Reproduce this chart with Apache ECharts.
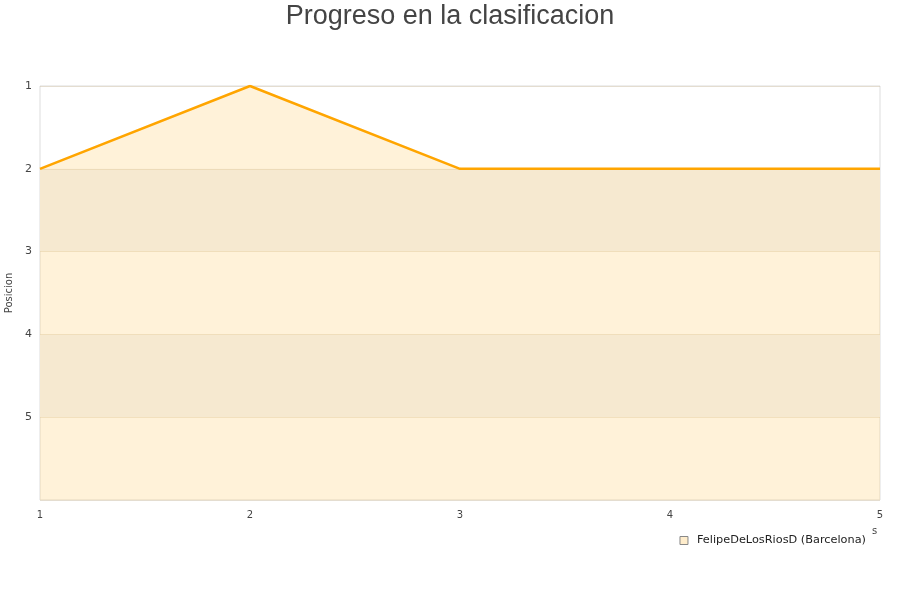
<!DOCTYPE html>
<html>
<head>
<meta charset="utf-8">
<script src="https://cdn.jsdelivr.net/npm/echarts@6/dist/echarts.min.js"></script>
<style>html,body{margin:0;padding:0;background:#fff}#c{width:900px;height:600px}</style>
</head>
<body>
<div id="c"></div>
<script>
const jornadas = [1, 2, 3, 4, 5];
const posiciones = [2, 1, 2, 2, 2];
const serieNombre = 'FelipeDeLosRiosD (Barcelona)';
const yTicks = [1, 2, 3, 4, 5];

const chart = echarts.init(document.getElementById('c'));
chart.setOption({
  animation: false,
  title: {
    text: 'Progreso en la clasificacion',
    left: 'center', top: -2,
    textStyle: { fontFamily: 'Liberation Sans', fontSize: 27, fontWeight: 'normal', color: '#444' }
  },
  grid: { left: 40, right: 20, top: 86, bottom: 100, show: true, borderColor: '#ddd', borderWidth: 1, outerBoundsMode: 'none', containLabel: false },
  legend: {
    right: 29, top: 530,
    itemWidth: 8, itemHeight: 8,
    icon: 'rect',
    textStyle: { fontFamily: 'DejaVu Sans', fontSize: 11.3, color: '#222', padding: [0, 0, 0, 4] },
    data: [{ name: serieNombre, itemStyle: { color: '#FFEDCC', borderColor: '#888', borderWidth: 1 } }]
  },
  graphic: [
    { type: 'text', left: 872, top: 526, style: { text: 's', fontSize: 10, fill: '#444', fontFamily: 'DejaVu Sans' } }
  ],
  xAxis: {
    type: 'value', min: 1, max: 5, interval: 1,
    axisLine: { show: false }, axisTick: { show: false }, splitLine: { show: false },
    axisLabel: { color: '#444', fontSize: 10, fontFamily: 'DejaVu Sans', margin: 10 }
  },
  yAxis: {
    type: 'value', inverse: true, min: 1, max: 6, interval: 1,
    name: 'Posicion', nameLocation: 'middle', nameGap: 24, nameRotate: 90,
    nameTextStyle: { color: '#444', fontSize: 10, fontFamily: 'DejaVu Sans' },
    axisLine: { show: false }, axisTick: { show: false },
    axisLabel: {
      color: '#444', fontSize: 11, fontFamily: 'DejaVu Sans', margin: 8,
      formatter: v => yTicks.includes(v) ? String(v) : ''
    },
    splitLine: { show: true, lineStyle: { color: 'rgba(200,170,120,0.25)', width: 1 } },
    splitArea: { show: true, areaStyle: { color: ['rgba(0,0,0,0)', '#f3f3f4'] } }
  },
  series: [{
    name: serieNombre,
    type: 'line',
    data: jornadas.map((j, i) => [j, posiciones[i]]),
    showSymbol: false,
    lineStyle: { color: '#FFA500', width: 2.5 },
    itemStyle: { color: '#FFA500' },
    areaStyle: { origin: 'end', color: 'rgba(255,200,100,0.35)' }
  }]
});
</script>
</body>
</html>
